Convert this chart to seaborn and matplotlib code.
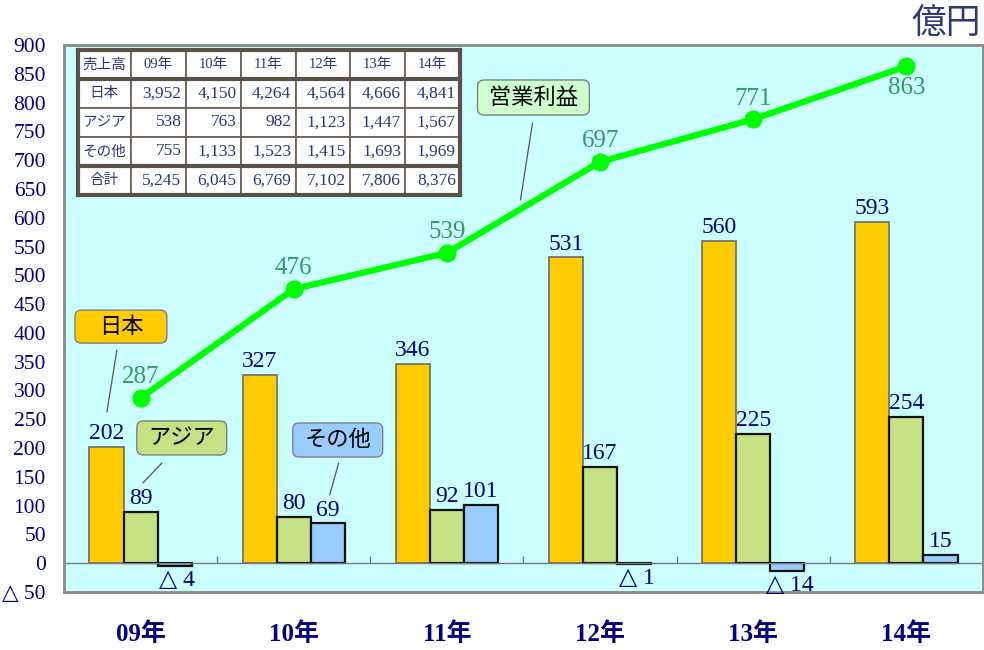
import numpy as np
import pandas as pd
import matplotlib
matplotlib.use("Agg")
import matplotlib.pyplot as plt
from matplotlib.patches import FancyBboxPatch
import seaborn as sns

# data (unit: 億円)
years = ["09年", "10年", "11年", "12年", "13年", "14年"]
regions = ["日本", "アジア", "その他"]
japan = [202, 327, 346, 531, 560, 593]
asia = [89, 80, 92, 167, 225, 254]
other = [-4, 69, 101, -1, -14, 15]
profit = [287, 476, 539, 697, 771, 863]

# sales table
table_header = ["売上高"] + years
table_rows = ["日本", "アジア", "その他", "合計"]
sales_japan = ["3,952", "4,150", "4,264", "4,564", "4,666", "4,841"]
sales_asia = ["538", "763", "982", "1,123", "1,447", "1,567"]
sales_other = ["755", "1,133", "1,523", "1,415", "1,693", "1,969"]
sales_total = ["5,245", "6,045", "6,769", "7,102", "7,806", "8,376"]

colors = {"日本": "#FFCC00", "アジア": "#C4E283", "その他": "#99CCFF"}
edges = {"日本": "#6b6b6b", "アジア": "#111111", "その他": "#111111"}
navy = "#000080"
serif = ["Liberation Serif", "DejaVu Sans", "Noto Sans CJK JP"]
sans = ["Noto Sans CJK JP", "DejaVu Sans"]

sns.set_style("white")
plt.rcParams["font.family"] = serif

df = pd.DataFrame({
    "year": years * 3,
    "region": [r for r in regions for _ in years],
    "value": japan + asia + other,
})

fig = plt.figure(figsize=(9.84, 6.5), dpi=100)
ax = fig.add_axes([0.065, 0.0892, 0.934, 0.8416])
ax.set_facecolor("#CCFFFF")

sns.barplot(data=df, x="year", y="value", hue="region", hue_order=regions,
            palette=colors, saturation=1, width=0.667, legend=False, ax=ax)

# bar edges and value labels
for cont, reg in zip(ax.containers, regions):
    for bar in cont:
        bar.set_edgecolor(edges[reg])
        bar.set_linewidth(1.6 if reg != "日本" else 1.2)
        v = bar.get_height()
        cx = bar.get_x() + bar.get_width() / 2
        if v >= 0:
            ax.annotate(f"{v:.0f}", (cx, v), xytext=(0, 2), textcoords="offset points",
                        ha="center", va="bottom", fontsize=17, color=navy)
        else:
            ax.annotate(f"△ {abs(v):.0f}", (cx, v), xytext=(2, -3), textcoords="offset points",
                        ha="center", va="top", fontsize=17, color=navy)

# operating profit line
xpos = np.arange(len(years))
ax.plot(xpos, profit, color="#00FF00", lw=4.5, marker="o", markersize=12, zorder=5)
for i, v in enumerate(profit):
    if i == len(profit) - 1:
        ax.annotate(str(v), (i, v), xytext=(0, -8), textcoords="offset points",
                    ha="center", va="top", fontsize=18, color="#339966")
    else:
        ax.annotate(str(v), (i, v), xytext=(0, 7), textcoords="offset points",
                    ha="center", va="bottom", fontsize=18, color="#339966")

# zero line and small category ticks
ax.axhline(0, color="#777777", lw=1, zorder=1)
ax.vlines(np.arange(0.5, len(years) - 1), 0, 12, color="#777777", lw=1)

ax.set_xlim(-0.5, len(years) - 0.5)
ax.set_ylim(-50, 900)
yt = list(range(-50, 901, 50))
ax.set_yticks(yt)
ax.set_yticklabels([f"△ {abs(t)}" if t < 0 else str(t) for t in yt],
                   fontsize=15.5, color=navy)
ax.tick_params(axis="y", direction="in", length=5, color="#777777", pad=13)
ax.tick_params(axis="x", length=0, pad=22)
for lab in ax.get_xticklabels():
    lab.set_fontsize(18)
    lab.set_fontweight("bold")
    lab.set_color(navy)
ax.set_xlabel("")
ax.set_ylabel("")
for s in ax.spines.values():
    s.set_color("#8a8a8a")
    s.set_linewidth(2)

# sales table in the upper left
cells = [table_header,
         [table_rows[0]] + sales_japan,
         [table_rows[1]] + sales_asia,
         [table_rows[2]] + sales_other,
         [table_rows[3]] + sales_total]
tb_x, tb_y, tb_w, tb_h = 0.0152, 0.726, 0.416, 0.265
tbl = ax.table(cellText=cells, bbox=[tb_x, tb_y, tb_w, tb_h], cellLoc="center",
               colWidths=[53] + [55] * 6)
tbl.auto_set_font_size(False)
for (r, c), cell in tbl.get_celld().items():
    cell.set_facecolor("white")
    cell.set_edgecolor("#6e655c")
    cell.set_linewidth(1.3)
    t = cell.get_text()
    t.set_color("#2B3A73")
    if c == 0:
        t.set_fontfamily(sans)
        t.set_fontsize(10.5)
    elif r == 0:
        t.set_fontsize(10.5)
    else:
        t.set_fontsize(12.5)
        t.set_ha("right")
        cell._loc = "right"
        cell.PAD = 0.08
    cell.set_zorder(6)
tbl.set_zorder(6)
rh = tb_h / 5
for yy in [tb_y, tb_y + rh, tb_y + tb_h - rh, tb_y + tb_h]:
    ax.plot([tb_x, tb_x + tb_w], [yy, yy], transform=ax.transAxes,
            color="#5a524a", lw=3, zorder=7, solid_capstyle="projecting")
for xx in [tb_x, tb_x + tb_w]:
    ax.plot([xx, xx], [tb_y, tb_y + tb_h], transform=ax.transAxes,
            color="#5a524a", lw=3, zorder=7, solid_capstyle="projecting")

# callout boxes (axes fraction)
aspect = 920 / 547
callouts = [
    ("日本", "#FFCC00", (0.012, 0.455, 0.100, 0.0603), (0.0576, 0.4424), (0.0467, 0.329)),
    ("アジア", "#C4E283", (0.0793, 0.2505, 0.0978, 0.0622), (0.1065, 0.2358), (0.0859, 0.1993)),
    ("その他", "#99CCFF", (0.249, 0.2468, 0.0978, 0.0622), (0.2989, 0.2358), (0.2891, 0.1773)),
    ("営業利益", "#CCFFCC", (0.450, 0.872, 0.1217, 0.064), (0.5098, 0.8574), (0.4967, 0.7166)),
]
for txt, fc, (bx, by, bw, bh), p0, p1 in callouts:
    box = FancyBboxPatch((bx, by), bw, bh, boxstyle="round,pad=0,rounding_size=0.007",
                         mutation_aspect=aspect, transform=ax.transAxes,
                         facecolor=fc, edgecolor="#808080", lw=1, zorder=8)
    ax.add_patch(box)
    ax.text(bx + bw / 2, by + bh / 2, txt, transform=ax.transAxes, ha="center",
            va="center", fontsize=16, family=sans, color="black", zorder=9)
    ax.plot([p0[0], p1[0]], [p0[1], p1[1]], transform=ax.transAxes,
            color="#555555", lw=0.9, zorder=8)

fig.text(946 / 984, 1 - 24 / 650, "億円", ha="center", va="center",
         fontsize=25, family=sans, color="#2E3B78")

fig.savefig("out.png", dpi=100, facecolor="white")
